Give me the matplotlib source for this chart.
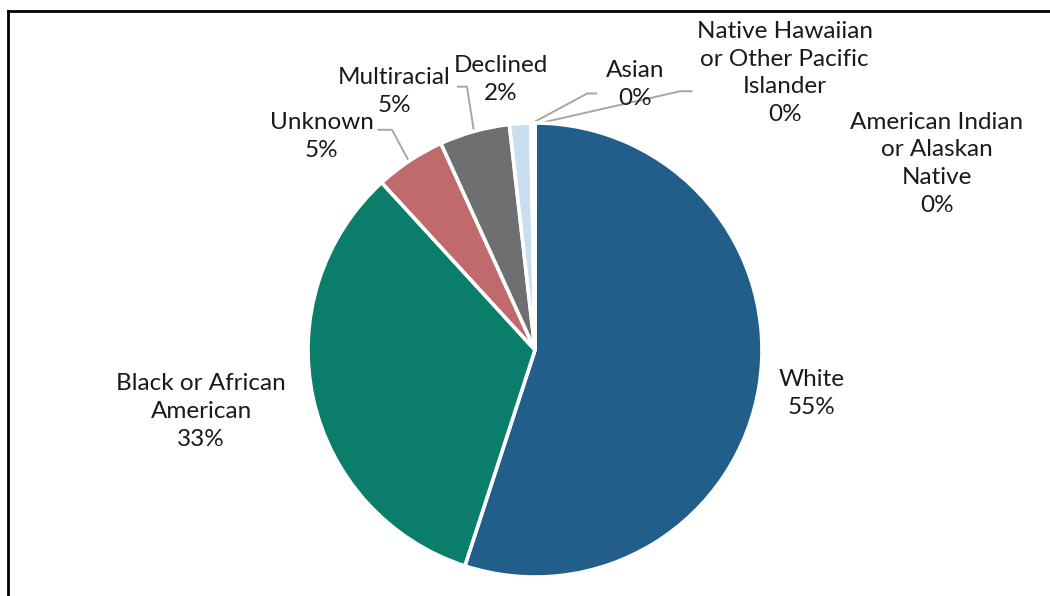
import matplotlib
matplotlib.use('Agg')
import matplotlib.pyplot as plt
from matplotlib.lines import Line2D

plt.rcParams['font.family'] = ['Lato', 'DejaVu Sans']

# --- data ---
categories = ['White', 'Black or African\nAmerican', 'Unknown', 'Multiracial',
              'Declined', 'Asian', 'Native Hawaiian\nor Other Pacific\nIslander',
              'American Indian\nor Alaskan\nNative']
shares = [55.0, 33.2, 5.0, 5.0, 1.5, 0.2, 0.1, 0.0]
colors = ['#215E89', '#0A7E6B', '#C06A6B', '#6E6F71', '#C9DFF1',
          '#9DC3E6', '#A9D18E', '#F4B183']

# label centres (data coords, pie radius = 1)
label_pos = [(1.22, -0.19), (-1.47, -0.27), (-0.94, 0.94), (-0.62, 1.14),
             (-0.15, 1.19), (0.44, 1.17), (1.10, 1.22), (1.77, 0.82)]
# leader lines: list of points per label (None = no leader)
leaders = [None, None,
           [(-0.69, 0.97), (-0.63, 0.97), (-0.56, 0.84)],
           [(-0.34, 1.16), (-0.30, 1.16), (-0.27, 0.97)],
           None,
           [(0.27, 1.13), (0.23, 1.13), (-0.03, 0.99)],
           [(0.69, 1.14), (0.64, 1.14), (-0.02, 0.99)],
           None]

fig = plt.figure(figsize=(10.5, 5.96), dpi=100)
W, H = 1050, 596
cx, cy, r = 535, 350, 227
ax = fig.add_axes([(cx - r) / W, (H - cy - r) / H, 2 * r / W, 2 * r / H])

ax.pie(shares, colors=colors, startangle=90, counterclock=False, radius=1,
       wedgeprops=dict(edgecolor='white', linewidth=2.6))
ax.set_xlim(-1, 1)
ax.set_ylim(-1, 1)
ax.set_aspect('equal')
ax.axis('off')

for cat, val, (lx, ly) in zip(categories, shares, label_pos):
    ax.text(lx, ly, f'{cat}\n{val:.0f}%', ha='center', va='center',
            fontsize=17.5, color='#1a1a1a', linespacing=1.4, clip_on=False)

for pts in leaders:
    if pts is None:
        continue
    xs, ys = zip(*pts)
    ax.plot(xs, ys, color='#A6A6A6', lw=1.4, clip_on=False, zorder=0)

# chart frame (top and left edges visible, rest runs off the image)
fig.add_artist(Line2D([7.5 / W, 7.5 / W], [0, 1 - 10.5 / H], color='black', lw=2))
fig.add_artist(Line2D([7.5 / W, 1.0], [1 - 10.5 / H, 1 - 10.5 / H], color='black', lw=2))

fig.savefig('out.png', dpi=100)
